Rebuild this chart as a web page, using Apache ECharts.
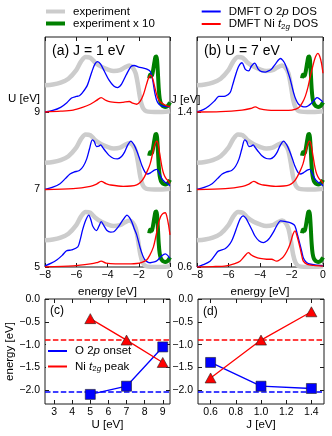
<!DOCTYPE html>
<html><head><meta charset="utf-8">
<script src="https://cdn.jsdelivr.net/npm/echarts@6/dist/echarts.min.js"></script>
<style>html,body{margin:0;padding:0;background:#fff}#c{width:332px;height:436px}</style>
</head><body><div id="c"></div><script>
// ---------- data ----------
const energyTicks = [-8, -6, -4, -2, 0];
const offsets = [4, 2, 0];             // baselines of the stacked spectra (top to bottom)
const uTickLabels = ['9', '7', '5'];
const jTickLabels = ['1.4', '1', '0.6'];

// experiment (same in every stack)
const expE = [-8,-7.5,-7,-6.5,-6,-5.7,-5.4,-5.1,-4.8,-4.4,-4,-3.6,-3.2,-2.9,-2.6,-2.4,-2.2,-2.05,-1.9,-1.75,-1.6,-1.4,-1,-0.5,0];
const expI = [0.69,0.71,0.76,0.86,1.08,1.30,1.42,1.40,1.28,1.17,1.10,1.06,1.08,1.15,1.20,1.15,1.0,0.7,0.33,0.12,0.04,0.01,0,0,0.02];
const exp10E = [-1.33,-1.28,-1.22,-1.15,-1.08,-1.0,-0.93,-0.88,-0.83,-0.78,-0.72,-0.66,-0.58,-0.5,-0.4,-0.3,-0.2,-0.1,0];
const exp10I = [0.87,0.96,0.93,0.95,1.08,1.28,1.42,1.43,1.35,1.05,0.6,0.35,0.22,0.17,0.14,0.13,0.14,0.18,0.25];

// DMFT O 2p DOS / Ni t2g DOS
const oE_U9 = [-8,-7.5,-7.0,-6.6,-6.3,-6.0,-5.8,-5.6,-5.3,-5.0,-4.8,-4.64,-4.45,-4.2,-3.9,-3.6,-3.36,-3.1,-2.8,-2.5,-2.3,-2.0,-1.7,-1.45,-1.25,-1.1,-0.95,-0.8,-0.6,-0.3,0];
const oI_U9 = [0,0.04,0.12,0.24,0.36,0.40,0.42,0.50,0.68,1.04,1.24,1.30,1.24,1.05,0.82,0.67,0.63,0.72,0.96,1.17,1.20,1.16,1.13,1.10,1.04,0.80,0.45,0.25,0.17,0.14,0.14];
const nE_U9 = [-8,-7,-6.2,-5.6,-5.1,-4.7,-4.41,-4.1,-3.8,-3.3,-3.0,-2.6,-2.4,-2.13,-1.9,-1.7,-1.5,-1.35,-1.23,-1.1,-0.95,-0.8,-0.6,-0.4,-0.2,0];
const nI_U9 = [0,0.02,0.05,0.12,0.20,0.30,0.37,0.30,0.26,0.24,0.25,0.27,0.23,0.20,0.28,0.45,0.72,0.90,0.95,0.85,0.60,0.38,0.25,0.20,0.16,0.14];

const oE_U7 = [-8,-7.5,-7.04,-6.7,-6.4,-6.15,-5.8,-5.55,-5.33,-5.15,-4.97,-4.85,-4.7,-4.55,-4.44,-4.3,-4.15,-3.9,-3.6,-3.36,-3.1,-2.9,-2.7,-2.5,-2.3,-2.13,-1.95,-1.8,-1.6,-1.45,-1.25,-1.0,-0.84,-0.7,-0.52,-0.35,-0.2,0];
const oI_U7 = [0,0.06,0.15,0.28,0.40,0.45,0.49,0.60,0.79,1.05,1.28,1.24,1.11,1.12,1.15,1.08,1.0,0.88,0.80,0.79,0.85,0.97,1.15,1.25,1.15,1.0,0.80,0.62,0.45,0.40,0.43,0.50,0.52,0.43,0.28,0.20,0.16,0.10];
const nE_U7 = [-8,-6.2,-5.1,-4.7,-4.4,-4.1,-3.86,-3.0,-2.5,-2.13,-1.9,-1.7,-1.45,-1.27,-1.1,-1.0,-0.9,-0.84,-0.75,-0.62,-0.5,-0.4,-0.25,-0.1,0];
const nI_U7 = [0,0.02,0.08,0.14,0.21,0.15,0.12,0.08,0.09,0.12,0.18,0.28,0.48,0.66,0.95,1.12,1.23,1.25,1.15,0.83,0.55,0.40,0.28,0.22,0.16];

const oE_U5 = [-8,-7.6,-7.25,-6.9,-6.62,-6.3,-5.9,-5.75,-5.6,-5.4,-5.2,-5.05,-4.94,-4.7,-4.55,-4.4,-4.25,-4.05,-3.8,-3.6,-3.3,-3.0,-2.75,-2.6,-2.45,-2.3,-2.13,-1.9,-1.75,-1.6,-1.4,-1.27,-1.0,-0.84,-0.55,-0.3,-0.15,0];
const oI_U5 = [0.03,0.10,0.18,0.30,0.42,0.44,0.52,0.70,0.95,1.20,1.34,1.20,1.05,0.94,1.05,1.17,1.08,0.95,0.90,0.91,1.04,1.22,1.34,1.28,1.17,1.0,0.83,0.48,0.30,0.18,0.12,0.11,0.13,0.16,0.28,0.34,0.30,0.22];
const nE_U5 = [-8,-6.2,-5.1,-4.7,-4.4,-4.1,-3.5,-2.5,-2.13,-1.8,-1.5,-1.3,-1.06,-0.9,-0.73,-0.6,-0.45,-0.3,-0.2,-0.1,0];
const nI_U5 = [0,0.03,0.08,0.11,0.15,0.10,0.08,0.08,0.09,0.12,0.18,0.30,0.52,0.80,1.13,1.30,1.38,1.40,1.30,1.10,0.83];

const oE_J14 = [-8,-7.6,-7.26,-6.9,-6.62,-6.2,-5.9,-5.75,-5.57,-5.35,-5.14,-4.93,-4.72,-4.55,-4.34,-4.1,-3.9,-3.66,-3.4,-3.24,-3.0,-2.7,-2.55,-2.4,-2.2,-2.08,-1.87,-1.7,-1.55,-1.3,-1.12,-0.9,-0.7,-0.5,-0.38,-0.2,-0.06,0];
const oI_J14 = [0,0.06,0.15,0.28,0.40,0.41,0.50,0.68,0.93,1.18,1.27,1.10,1.06,1.18,1.26,1.10,1.04,1.03,1.07,1.12,1.25,1.38,1.33,1.23,1.0,0.84,0.50,0.30,0.20,0.14,0.13,0.17,0.24,0.33,0.37,0.33,0.28,0.25];
const nE_J14 = [-8,-6.5,-5.14,-4.6,-4.3,-4.0,-3.5,-2.5,-1.97,-1.55,-1.3,-1.12,-0.95,-0.8,-0.65,-0.53,-0.42,-0.32,-0.22,-0.1,0];
const nI_J14 = [0,0.01,0.05,0.09,0.13,0.08,0.05,0.04,0.05,0.11,0.25,0.41,0.65,0.93,1.18,1.36,1.47,1.51,1.45,1.27,1.0];

const oE_J06 = [-8,-7.6,-7.17,-6.9,-6.65,-6.22,-6.0,-5.8,-5.62,-5.44,-5.25,-5.06,-4.9,-4.74,-4.5,-4.32,-4.05,-3.79,-3.55,-3.37,-3.15,-2.94,-2.69,-2.45,-2.2,-1.95,-1.78,-1.6,-1.46,-1.35,-1.25,-1.1,-0.93,-0.4,0];
const oI_J06 = [0,0.06,0.15,0.28,0.41,0.47,0.55,0.67,0.85,1.06,1.25,1.32,1.26,1.14,0.95,0.80,0.67,0.63,0.68,0.76,0.90,1.06,1.19,1.18,1.16,1.12,1.06,0.80,0.58,0.40,0.24,0.14,0.09,0.05,0.03];
const nE_J06 = [-8,-7,-6.14,-5.6,-5.27,-5.0,-4.74,-4.55,-4.32,-4.0,-3.58,-3.26,-2.94,-2.7,-2.52,-2.3,-2.1,-1.9,-1.78,-1.65,-1.46,-1.35,-1.25,-1.0,-0.6,0];
const nI_J06 = [0,0.01,0.03,0.09,0.15,0.27,0.37,0.31,0.26,0.22,0.20,0.20,0.15,0.20,0.26,0.40,0.58,0.85,0.93,0.80,0.50,0.30,0.15,0.07,0.04,0.02];

// bottom panels
const uValues = [5, 7, 9];
const o2pOnsetU = [-2.09, -1.91, -1.05];
const niPeakU = [-0.43, -0.90, -1.39];
const jValues = [0.6, 1.0, 1.4];
const o2pOnsetJ = [-1.39, -1.91, -1.96];
const niPeakJ = [-1.73, -0.90, -0.28];
const niPeakExp = -0.90;
const o2pOnsetExp = -2.04;
const uTicks = [3, 4, 5, 6, 7, 8, 9];
const jTicks = [0.6, 0.8, 1.0, 1.2, 1.4];
const eTicks = [0, -0.5, -1.0, -1.5, -2.0];

// ---------- chart ----------
const FONT = 'Liberation Sans';
const FR = '#1a1a1a';
const C_GRAY = '#cccccc', C_GREEN = '#008000', C_BLUE = '#0000ff', C_RED = '#ff0000';
const minus = s => String(s).replace('-', '\u2212');

const grids = [
  {left: 45, top: 37, width: 125, height: 230},
  {left: 197, top: 37, width: 126, height: 230},
  {left: 45, top: 299, width: 125, height: 105},
  {left: 198, top: 299, width: 126, height: 105}
].map(g => Object.assign(g, {show: true, borderColor: FR, borderWidth: 1, backgroundColor: 'transparent'}));

function axis(o) {
  return {
    type: 'value', gridIndex: o.grid, position: o.pos, min: o.min, max: o.max,
    name: o.name || '', nameLocation: 'middle', nameGap: o.nameGap || 0,
    nameTextStyle: {fontFamily: FONT, fontSize: 11.5, color: '#000'},
    axisLine: {show: false, onZero: false},
    splitLine: {show: false},
    axisTick: {show: true, inside: true, length: 4, customValues: o.ticks, lineStyle: {color: FR, width: 1}},
    axisLabel: {show: !!o.fmt, customValues: o.ticks, formatter: o.fmt, fontFamily: FONT, fontSize: 10.5, color: '#000', margin: o.margin || 4, showMinLabel: true, showMaxLabel: true},
  };
}
const topYMax = 5.935;
const xAxes = [
  axis({grid: 0, pos: 'bottom', min: -8, max: 0, ticks: energyTicks, fmt: v => minus(v), name: 'energy [eV]', nameGap: 16, margin: 3}),
  axis({grid: 0, pos: 'top', min: -8, max: 0, ticks: energyTicks}),
  axis({grid: 1, pos: 'bottom', min: -8, max: 0, ticks: energyTicks, fmt: v => minus(v), name: 'energy [eV]', nameGap: 16, margin: 3}),
  axis({grid: 1, pos: 'top', min: -8, max: 0, ticks: energyTicks}),
  axis({grid: 2, pos: 'bottom', min: 2.5, max: 9.4, ticks: uTicks, fmt: v => String(v), name: 'U [eV]', nameGap: 12, margin: 3}),
  axis({grid: 2, pos: 'top', min: 2.5, max: 9.4, ticks: uTicks}),
  axis({grid: 3, pos: 'bottom', min: 0.5, max: 1.5, ticks: jTicks, fmt: v => v.toFixed(1), name: 'J [eV]', nameGap: 12, margin: 3}),
  axis({grid: 3, pos: 'top', min: 0.5, max: 1.5, ticks: jTicks}),
];
const yAxes = [
  axis({grid: 0, pos: 'left', min: 0, max: topYMax, ticks: [0, 2, 4], fmt: v => uTickLabels[offsets.indexOf(v)], margin: 5}),
  axis({grid: 0, pos: 'right', min: 0, max: topYMax, ticks: [0, 2, 4]}),
  axis({grid: 1, pos: 'left', min: 0, max: topYMax, ticks: [0, 2, 4], fmt: v => jTickLabels[offsets.indexOf(v)], margin: 5}),
  axis({grid: 1, pos: 'right', min: 0, max: topYMax, ticks: [0, 2, 4]}),
  axis({grid: 2, pos: 'left', min: -2.3, max: 0, ticks: eTicks, fmt: v => minus(v.toFixed(1)), name: 'energy [eV]', nameGap: 26, margin: 5}),
  axis({grid: 2, pos: 'right', min: -2.3, max: 0, ticks: eTicks}),
  axis({grid: 3, pos: 'left', min: -2.3, max: 0, ticks: eTicks, fmt: v => minus(v.toFixed(1)), margin: 5}),
  axis({grid: 3, pos: 'right', min: -2.3, max: 0, ticks: eTicks}),
];

function spec(name, xs, ys, off, ax, color, width) {
  return {
    type: 'line', name, xAxisIndex: ax, yAxisIndex: ax,
    data: xs.map((x, i) => [x, ys[i] + off]),
    symbol: 'none', showSymbol: false, smooth: 0.3, clip: true, silent: true,
    lineStyle: {color, width, cap: 'butt', join: 'round'}, itemStyle: {color}
  };
}
const panelA = [[oE_U9, oI_U9, nE_U9, nI_U9], [oE_U7, oI_U7, nE_U7, nI_U7], [oE_U5, oI_U5, nE_U5, nI_U5]];
const panelB = [[oE_J14, oI_J14, nE_J14, nI_J14], [oE_U7, oI_U7, nE_U7, nI_U7], [oE_J06, oI_J06, nE_J06, nI_J06]];

const series = [];
[[panelA, 0], [panelB, 2]].forEach(([panel, ax]) => {
  panel.forEach((c, k) => {
    const off = offsets[k];
    series.push(spec('experiment', expE, expI, off, ax, C_GRAY, 4.5));
    series.push(spec('experiment x 10', exp10E, exp10I, off, ax, C_GREEN, 4));
    series.push(spec('DMFT O 2p DOS', c[0], c[1], off, ax, C_BLUE, 1.3));
    series.push(spec('DMFT Ni t2g DOS', c[2], c[3], off, ax, C_RED, 1.3));
  });
});

function refLine(y, color) {
  return {silent: true, symbol: 'none', label: {show: false},
    lineStyle: {color, width: 1.6, type: [5.5, 2.4]}, data: [{yAxis: y}]};
}
function pts(name, xs, ys, ax, color, sym, refY) {
  return {
    type: 'line', name, xAxisIndex: ax, yAxisIndex: ax,
    data: xs.map((x, i) => [x, ys[i]]), symbol: sym,
    symbolSize: sym === 'rect' ? 10 : [11, 10], showSymbol: true, z: 5,
    lineStyle: {color, width: 1.3}, itemStyle: {color, borderColor: '#222', borderWidth: 0.6},
    markLine: refLine(refY, color), silent: true
  };
}
series.push(pts('O 2p onset', uValues, o2pOnsetU, 4, C_BLUE, 'rect', o2pOnsetExp));
series.push(pts('Ni t2g peak', uValues, niPeakU, 4, C_RED, 'triangle', niPeakExp));
series.push(pts('O 2p onset', jValues, o2pOnsetJ, 6, C_BLUE, 'rect', o2pOnsetExp));
series.push(pts('Ni t2g peak', jValues, niPeakJ, 6, C_RED, 'triangle', niPeakExp));

const rich = {
  n: {fontFamily: FONT, fontSize: 11.5, lineHeight: 13, color: '#000'},
  i: {fontFamily: FONT, fontSize: 11.5, lineHeight: 13, fontStyle: 'italic', color: '#000'},
  s: {fontFamily: FONT, fontSize: 8, lineHeight: 8, padding: [5, 0, 0, 0], color: '#000'},
  si: {fontFamily: FONT, fontSize: 8, lineHeight: 8, padding: [5, 0, 0, 0], fontStyle: 'italic', color: '#000'}
};
const legendFmt = {
  'experiment': '{n|experiment}',
  'experiment x 10': '{n|experiment x 10}',
  'DMFT O 2p DOS': '{n|DMFT O 2}{i|p}{n| DOS}',
  'DMFT Ni t2g DOS': '{n|DMFT Ni }{i|t}{s|2}{si|g}{n| DOS}',
  'O 2p onset': '{n|O 2}{i|p}{n| onset}',
  'Ni t2g peak': '{n|Ni }{i|t}{s|2}{si|g}{n| peak}'
};
const legendColors = {
  'experiment': C_GRAY, 'experiment x 10': C_GREEN,
  'DMFT O 2p DOS': C_BLUE, 'DMFT Ni t2g DOS': C_RED,
  'O 2p onset': C_BLUE, 'Ni t2g peak': C_RED
};
function legend(names, left, top, h, gap, bg) {
  return {
    data: names.map(n => ({name: n, icon: 'rect', itemStyle: {color: legendColors[n], borderWidth: 0, borderColor: 'transparent'}})),
    left, top, orient: 'vertical', icon: 'rect', itemWidth: 19, itemHeight: h,
    itemGap: gap, padding: 2, selectedMode: false, backgroundColor: bg || 'transparent',
    itemStyle: {borderWidth: 0},
    formatter: n => legendFmt[n], textStyle: {rich, padding: [0, 0, 0, 3]}
  };
}

const T = (text, x, y, size, align) => ({type: 'text', x, y, silent: true,
  style: {text, font: `${size}px "${FONT}"`, fill: '#000', align: align || 'left', verticalAlign: 'middle'}});

const option = {
  animation: false,
  backgroundColor: '#fff',
  grid: grids, xAxis: xAxes, yAxis: yAxes, series,
  legend: [
    legend(['experiment', 'experiment x 10'], 44, 3.5, 4, 0),
    legend(['DMFT O 2p DOS', 'DMFT Ni t2g DOS'], 199.7, 3.5, 2, 0),
    legend(['O 2p onset', 'Ni t2g peak'], 46, 343, 2, 3, '#fff')
  ],
  graphic: [
    T('(a) J = 1 eV', 52, 51, 14),
    T('(b) U = 7 eV', 204, 51, 14),
    T('U [eV]', 40, 99, 11.5, 'right'),
    T('J [eV]', 200.5, 100, 11.5, 'right'),
    T('(c)', 50, 311, 12),
    T('(d)', 203, 312, 12)
  ]
};
const chart = echarts.init(document.getElementById('c'), null, {renderer: 'canvas'});
chart.setOption(option);
</script></body></html>
